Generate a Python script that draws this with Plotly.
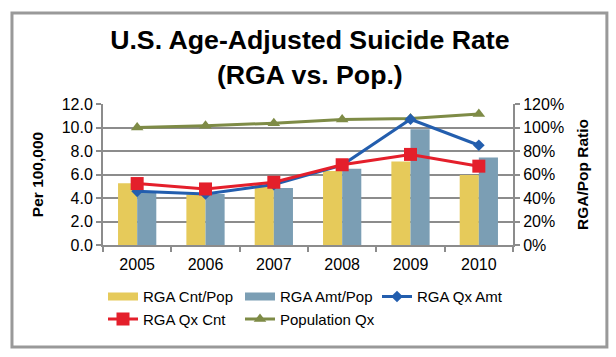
import plotly.graph_objects as go

years = ["2005", "2006", "2007", "2008", "2009", "2010"]
rga_cnt_pop = [5.25, 4.3, 5.1, 6.3, 7.1, 5.95]
rga_amt_pop = [4.6, 4.35, 4.85, 6.5, 9.85, 7.45]
rga_qx_amt = [0.457, 0.434, 0.514, 0.68, 1.07, 0.849]
rga_qx_cnt = [0.523, 0.477, 0.534, 0.683, 0.771, 0.671]
pop_qx = [1.00, 1.014, 1.037, 1.069, 1.077, 1.114]

FONT = "Liberation Sans, Arial, sans-serif"
GRID = "#8c8c8c"
YELLOW = "#E6CA5A"
STEEL = "#7B9EB4"

fig = go.Figure()
fig.add_trace(go.Bar(x=years, y=rga_cnt_pop, name="RGA Cnt/Pop", showlegend=False,
                     marker=dict(color=YELLOW, line=dict(width=0))))
fig.add_trace(go.Bar(x=years, y=rga_amt_pop, name="RGA Amt/Pop", showlegend=False,
                     marker=dict(color=STEEL, line=dict(width=0))))
# legend swatches for the bar series (wide rectangles as in the original)
fig.add_trace(go.Scatter(x=[None], y=[None], name="RGA Cnt/Pop", mode="lines",
                         line=dict(color=YELLOW, width=8), legendrank=1))
fig.add_trace(go.Scatter(x=[None], y=[None], name="RGA Amt/Pop", mode="lines",
                         line=dict(color=STEEL, width=8), legendrank=2))
fig.add_trace(go.Scatter(x=years, y=pop_qx, name="Population Qx", yaxis="y2",
                         mode="lines+markers", line=dict(color="#7E8B46", width=3),
                         marker=dict(symbol="triangle-up", size=11, color="#7E8B46"),
                         legendrank=5))
fig.add_trace(go.Scatter(x=years, y=rga_qx_amt, name="RGA Qx Amt", yaxis="y2",
                         mode="lines+markers", line=dict(color="#235EAE", width=3),
                         marker=dict(symbol="diamond", size=9, color="#235EAE"),
                         legendrank=3))
fig.add_trace(go.Scatter(x=years, y=rga_qx_cnt, name="RGA Qx Cnt", yaxis="y2",
                         mode="lines+markers", line=dict(color="#E41F2B", width=3),
                         marker=dict(symbol="square", size=13, color="#E41F2B"),
                         legendrank=4))

fig.update_layout(
    width=616, height=357,
    margin=dict(l=103, r=103, t=104, b=112),
    paper_bgcolor="white", plot_bgcolor="white",
    font=dict(family=FONT, size=15, color="black"),
    title=dict(text="<b>U.S. Age-Adjusted Suicide Rate<br>(RGA vs. Pop.)</b>",
               x=0.503, xanchor="center", y=0.862, yanchor="top",
               font=dict(family=FONT, size=26.7, color="black")),
    barmode="group", bargap=0.44, bargroupgap=0,
    xaxis=dict(type="category", showline=True, linecolor=GRID, linewidth=2,
               ticks="outside", tickson="boundaries", ticklen=5, tickcolor=GRID,
               tickwidth=2, showgrid=False, tickfont=dict(size=16),
               ticklabelstandoff=4),
    yaxis=dict(range=[0, 12], dtick=2, tickformat=".1f", showline=True,
               linecolor=GRID, linewidth=2, ticks="outside", ticklen=5,
               tickcolor=GRID, tickwidth=2, showgrid=True, gridcolor=GRID,
               gridwidth=2, zeroline=False, tickfont=dict(size=16),
               title=dict(text="<b>Per 100,000</b>", font=dict(size=15.5), standoff=14)),
    yaxis2=dict(range=[0, 1.2], dtick=0.2, tickformat=".0%", overlaying="y",
                side="right", showline=True, linecolor=GRID, linewidth=2,
                ticks="outside", ticklen=5, tickcolor=GRID, tickwidth=2,
                showgrid=False, zeroline=False, tickfont=dict(size=16),
                title=dict(text="<b>RGA/Pop Ratio</b>", font=dict(size=15.5), standoff=14)),
    legend=dict(orientation="h", x=0.0, xanchor="left", y=-0.25, yanchor="top",
                traceorder="normal", entrywidth=92, font=dict(size=15),
                itemwidth=30, tracegroupgap=0),
    showlegend=True,
)

fig.add_shape(type="rect", xref="paper", yref="paper",
              x0=-0.222, x1=1.229, y0=-0.723, y1=1.645,
              line=dict(color="#999999", width=3), fillcolor="rgba(0,0,0,0)",
              layer="below")

fig.write_html("out.html", config={"displayModeBar": False},
               post_script="document.body.style.margin='0';")
